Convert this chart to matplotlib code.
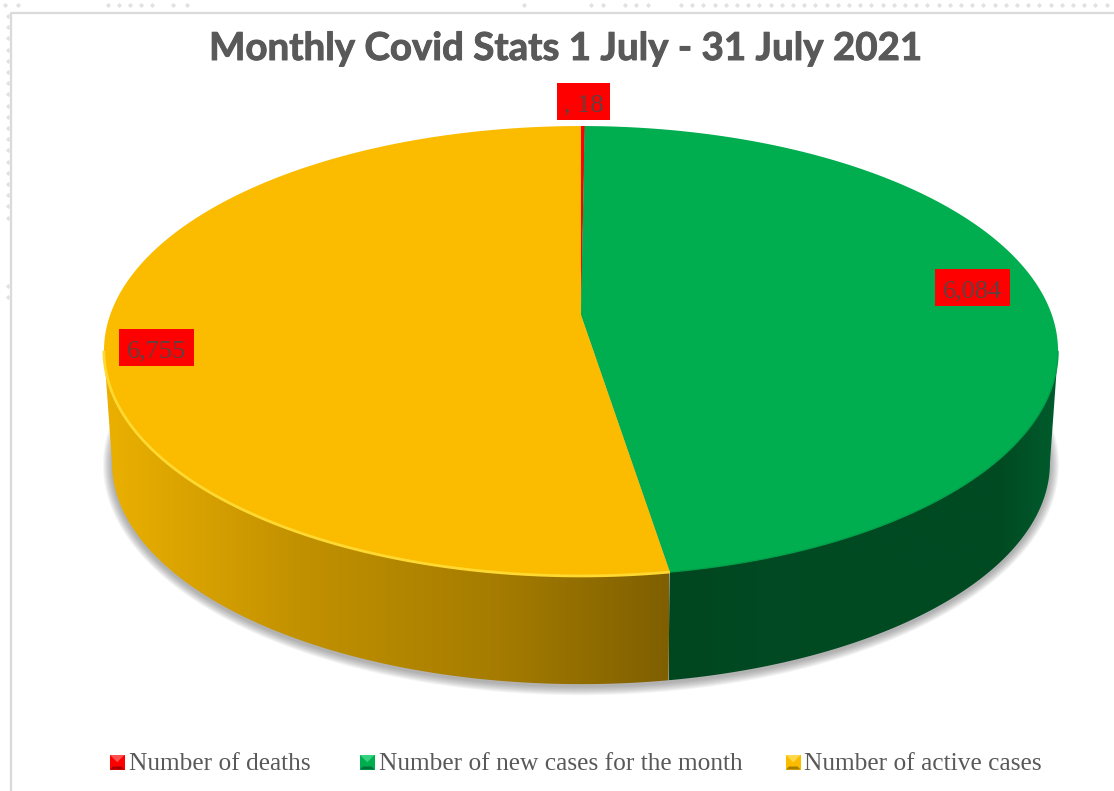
import numpy as np
import matplotlib
matplotlib.use('Agg')
import matplotlib.pyplot as plt
import matplotlib.patheffects as pe
from matplotlib.colors import LinearSegmentedColormap
from matplotlib.patches import Polygon, Rectangle

# data
categories = ['Number of deaths', 'Number of new cases for the month', 'Number of active cases']
values = [18, 6084, 6755]
value_labels = [', 18', '6,084', '6,755']
title = 'Monthly Covid Stats 1 July - 31 July 2021'

top_colors = ['#FF0000', '#00AD4F', '#FBBC00']
text_grey = '#595959'

W, H = 1114, 791

# perspective of the pie disc, in pixels
cx, cy, R, b, k = 581.0, 315.0, 470.9, 219.2, 0.16
# lower rim of the pie
side_scale, side_cy, disc_cy = 0.983, 463.0, 351.0


def disc(theta):
    u, v = np.sin(theta), np.cos(theta)
    w = 1 + k * v
    return cx + R * u / w, cy - b * v / w


def lower(x, y):
    return cx + side_scale * (x - cx), side_cy + side_scale * (y - disc_cy)


fig = plt.figure(figsize=(W / 100, H / 100), dpi=100)
ax = fig.add_axes([0, 0, 1, 1])

# chart frame and the faint dots of the sheet behind it
ax.plot([11, 11, W], [H, 13, 13], color='#DADADA', lw=1.6, zorder=1)
dots_top = [5, 18, 108, 119, 130, 141, 152, 173, 187, 524, 591, 603, 625, 636, 648]
dots_top += list(np.arange(681, W, 11.2))
dots_left = list(np.arange(16, 225, 11.2)) + [286, 297]
ax.plot(dots_top, [5] * len(dots_top), ls='', marker='D', ms=2.6, color='#E2E2E2', mew=0, zorder=1)
ax.plot([8] * len(dots_left), dots_left, ls='', marker='D', ms=2.6, color='#E2E2E2', mew=0, zorder=1)

fractions = np.array(values) / sum(values)
edges = np.concatenate([[0], np.cumsum(fractions)]) * 2 * np.pi
t_all = np.linspace(0, 2 * np.pi, 720)
x_all = disc(t_all)[0]
t_right, t_left = t_all[np.argmax(x_all)], t_all[np.argmin(x_all)]

# soft shadow under the pie
x_low, y_low = lower(*disc(t_all))
for grow in np.arange(9, 0, -1):
    sx = cx + (x_low - cx) * (1 + grow / 470)
    sy = 463 + (y_low - 463) * (1 + grow / 221) + 2
    ax.add_patch(Polygon(np.c_[sx, sy], fc='#505050', ec='none', alpha=0.06, zorder=2))

# side of the pie with its horizontal gradient, only the front of the rim
side_ranges = {1: (t_right, edges[2]), 2: (edges[2], t_left)}
side_stops = {
    1: ([669, 800, 1000, 1058], ['#00471F', '#004A23', '#004A22', '#005C2C']),
    2: ([104, 300, 500, 669], ['#EBB000', '#C29100', '#A57C00', '#7F5F00']),
}
rim_colors = {1: '#00A049', 2: '#FFD832'}
rim_widths = {1: 1.0, 2: 2.0}
for i, (xs, cols) in side_stops.items():
    t = np.linspace(side_ranges[i][0], side_ranges[i][1], 200)
    xt, yt = disc(t)
    xb, yb = lower(xt, yt)
    poly = Polygon(np.r_[np.c_[xt, yt], np.c_[xb, yb][::-1]], fc='none', ec='none', zorder=3)
    ax.add_patch(poly)
    pos = (np.array(xs) - xs[0]) / (xs[-1] - xs[0])
    cmap = LinearSegmentedColormap.from_list('side', list(zip(pos, cols)))
    im = ax.imshow(np.linspace(0, 1, 256)[None, :], cmap=cmap, aspect='auto',
                   extent=[xs[0], xs[-1], 700, 200], zorder=3)
    im.set_clip_path(poly)

# top of the pie
for i, val in enumerate(values):
    t = np.linspace(edges[i], edges[i + 1], 300)
    xt, yt = disc(t)
    ax.add_patch(Polygon(np.r_[[[cx, cy]], np.c_[xt, yt]], fc=top_colors[i], ec='none', zorder=4))
for i, (t0, t1) in side_ranges.items():
    xt, yt = disc(np.linspace(t0, t1, 200))
    ax.plot(xt, yt, color=rim_colors[i], lw=rim_widths[i], zorder=5, solid_capstyle='butt')

# data labels
label_boxes = [(557, 83, 53), (935, 269, 75), (119, 329, 75)]
for (bx, by, bw), lab in zip(label_boxes, value_labels):
    ax.add_patch(Rectangle((bx, by), bw, 37, fc='#FF0000', ec='none', zorder=6))
    ax.text(bx + bw / 2, by + 28.5, lab, family='Liberation Serif', fontsize=19,
            color='#604040', ha='center', va='baseline', zorder=7)

ax.text(566, 60, title, family='Lato', fontweight='bold', fontsize=27.7, color=text_grey,
        ha='center', va='baseline', zorder=7,
        path_effects=[pe.withStroke(linewidth=0.7, foreground=text_grey)])

# legend with bevelled keys
legend_keys = [110, 360, 786]
legend_text_x = [129, 379, 804]
key_light = ['#FF5050', '#35D080', '#FFD84A']
key_dark = ['#A80000', '#00733A', '#A87E00']
for x0, tx, lab, col, li, da in zip(legend_keys, legend_text_x, categories, top_colors, key_light, key_dark):
    y0, s, m = 755, 14.5, 3
    ax.add_patch(Rectangle((x0, y0), s, s, fc=col, ec='none', zorder=6))
    ax.add_patch(Polygon([[x0, y0], [x0 + s, y0], [x0 + s / 2, y0 + s / 2]], fc=li, ec='none', zorder=6))
    ax.add_patch(Polygon([[x0, y0 + s], [x0 + s, y0 + s], [x0 + s - m, y0 + s - m], [x0 + m, y0 + s - m]],
                         fc=da, ec='none', zorder=7))
    ax.text(tx, 770, lab, family='Liberation Serif', fontsize=18.3, color=text_grey,
            ha='left', va='baseline', zorder=7)

ax.set_xlim(0, W)
ax.set_ylim(H, 0)
ax.axis('off')

fig.savefig('out.png', dpi=100, facecolor='white')
plt.close(fig)
